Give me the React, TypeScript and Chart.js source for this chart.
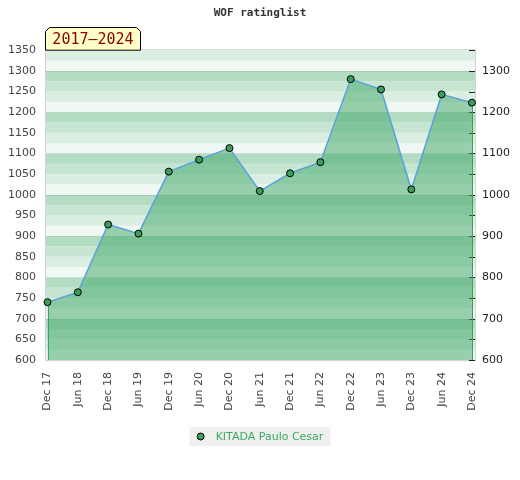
import React, { useEffect, useRef } from "react";
import { Chart, registerables } from "chart.js";

Chart.register(...registerables);

const TITLE = "WOF ratinglist";
const PERIOD = "2017–2024";
const SERIES_NAME = "KITADA Paulo Cesar";
const LABELS = [
  "Dec 17", "Jun 18", "Dec 18", "Jun 19", "Dec 19", "Jun 20", "Dec 20", "Jun 21",
  "Dec 21", "Jun 22", "Dec 22", "Jun 23", "Dec 23", "Jun 24", "Dec 24",
];
const RATINGS = [740, 764, 928, 906, 1056, 1085, 1113, 1009, 1052, 1079, 1280, 1255, 1013, 1243, 1223];
const Y_MIN = 600;
const Y_MAX = 1350;
const BAND_STEP = 25;
const BAND_COLORS = ["#f0f8f3", "#daeee1", "#c6e6d2", "#b3dcc3"]; // from v to v+100 upwards

const bgPlugin = {
  id: "bands",
  beforeDatasetsDraw(chart: any) {
    const { ctx, chartArea: a, scales } = chart;
    const y = scales.y;
    const x = scales.x;
    ctx.save();
    for (let v = Y_MIN; v < Y_MAX; v += BAND_STEP) {
      const idx = Math.floor(((v - Y_MIN) % 100) / BAND_STEP);
      const top = y.getPixelForValue(v + BAND_STEP);
      const bot = y.getPixelForValue(v);
      ctx.fillStyle = BAND_COLORS[idx];
      ctx.fillRect(a.left, top, a.right - a.left, bot - top);
    }
    ctx.strokeStyle = "rgba(0,0,0,0.08)";
    ctx.lineWidth = 1;
    for (let v = Y_MIN + 100; v < Y_MAX; v += 100) {
      const py = Math.round(y.getPixelForValue(v)) + 0.5;
      ctx.beginPath();
      ctx.moveTo(a.left, py);
      ctx.lineTo(a.right, py);
      ctx.stroke();
    }
    // frame
    ctx.strokeStyle = "#d4d4d4";
    ctx.strokeRect(a.left - 0.5, a.top - 0.5, a.right - a.left + 1, a.bottom - a.top + 1);
    // inner ticks on right
    ctx.strokeStyle = "#222";
    for (let v = Y_MIN; v <= Y_MAX; v += 50) {
      const py = Math.round(y.getPixelForValue(v)) + 0.5;
      ctx.beginPath();
      ctx.moveTo(a.right - 6, py);
      ctx.lineTo(a.right, py);
      ctx.stroke();
    }
    // vertical edges of the filled area
    ctx.strokeStyle = "#3aa05a";
    const n = RATINGS.length;
    [0, n - 1].forEach((i) => {
      const px = Math.round(x.getPixelForValue(i)) + 0.5;
      ctx.beginPath();
      ctx.moveTo(px, y.getPixelForValue(RATINGS[i]));
      ctx.lineTo(px, a.bottom);
      ctx.stroke();
    });
    ctx.restore();
  },
  afterDraw(chart: any) {
    const { ctx, chartArea: a } = chart;
    ctx.save();
    // period label box
    const bx = a.left - 0.5, by = 27.5, bw = 95, bh = a.top - 27.5, c = 4;
    ctx.beginPath();
    ctx.moveTo(bx, by + bh);
    ctx.lineTo(bx, by + c);
    ctx.lineTo(bx + c, by);
    ctx.lineTo(bx + bw - c, by);
    ctx.lineTo(bx + bw, by + c);
    ctx.lineTo(bx + bw, by + bh);
    ctx.closePath();
    ctx.fillStyle = "#ffffc8";
    ctx.fill();
    ctx.strokeStyle = "#000";
    ctx.lineWidth = 1;
    ctx.stroke();
    ctx.fillStyle = "#8b0000";
    ctx.font = "15px 'DejaVu Sans Mono'";
    ctx.textAlign = "center";
    ctx.textBaseline = "middle";
    ctx.fillText(PERIOD, bx + bw / 2, by + bh / 2 + 1);

    // legend
    const label = chart.data.datasets[0].label;
    ctx.font = "11px 'DejaVu Sans'";
    const tw = ctx.measureText(label).width;
    const lw = 26 + tw + 7;
    const lx = 260 - lw / 2;
    const ly = 427;
    ctx.fillStyle = "#f0f0f0";
    ctx.fillRect(lx, ly, lw, 19);
    ctx.beginPath();
    ctx.arc(lx + 11, ly + 9.5, 3.5, 0, Math.PI * 2);
    ctx.fillStyle = "#3a9f5a";
    ctx.fill();
    ctx.strokeStyle = "#000";
    ctx.stroke();
    ctx.fillStyle = "#3aaa5c";
    ctx.textAlign = "left";
    ctx.textBaseline = "middle";
    ctx.fillText(label, lx + 26, ly + 10);
    ctx.restore();
  },
};

export default function App() {
  const ref = useRef<HTMLCanvasElement | null>(null);
  useEffect(() => {
    document.body.style.margin = "0";
    const canvas = ref.current!;
    const chart = new Chart(canvas, {
      type: "line",
      data: {
        datasets: [
          {
            label: SERIES_NAME,
            data: RATINGS.map((v, i) => ({ x: i, y: v })),
            borderColor: "#5aa2dc",
            borderWidth: 1.5,
            backgroundColor: "rgba(62,166,103,0.5)",
            fill: "start",
            tension: 0,
            pointRadius: 3.5,
            pointBackgroundColor: "#3a9f5a",
            pointBorderColor: "#000",
            pointBorderWidth: 1,
            clip: false as any,
          },
        ],
      },
      options: {
        animation: false,
        responsive: false,
        devicePixelRatio: 1,
        layout: { padding: { bottom: 60, left: 0, right: 0 } },
        plugins: {
          legend: { display: false },
          tooltip: { enabled: false },
          title: {
            display: true,
            text: TITLE,
            color: "#333",
            font: { family: "'DejaVu Sans Mono'", size: 11, weight: "bold" },
            padding: { top: 7, bottom: 30 },
          },
        },
        scales: {
          x: {
            type: "linear",
            min: -0.05,
            max: 14.1,
            afterBuildTicks: (s: any) => {
              s.ticks = LABELS.map((_, i) => ({ value: i }));
            },
            afterFit: (s: any) => {
              s.height = 60;
            },
            grid: { display: false, drawTicks: false },
            border: { display: false },
            ticks: {
              autoSkip: false,
              maxRotation: 90,
              minRotation: 90,
              padding: 12,
              color: "#444",
              font: { family: "'DejaVu Sans'", size: 11 },
              callback: (v: any) => LABELS[v] ?? "",
            },
          },
          y: {
            type: "linear",
            position: "left",
            min: Y_MIN,
            max: Y_MAX,
            afterFit: (s: any) => {
              s.width = 46;
            },
            grid: { display: false, drawTicks: false },
            border: { display: false },
            ticks: {
              stepSize: 50,
              padding: 10,
              color: "#444",
              font: { family: "'DejaVu Sans'", size: 11 },
              callback: (v: any) => String(v),
            },
          },
          y2: {
            type: "linear",
            position: "right",
            min: Y_MIN,
            max: Y_MAX,
            afterFit: (s: any) => {
              s.width = 45;
            },
            grid: { display: false, drawTicks: false },
            border: { display: false },
            ticks: {
              stepSize: 50,
              padding: 7,
              color: "#222",
              font: { family: "'DejaVu Sans'", size: 11 },
              callback: (v: any) => (Number(v) % 100 === 0 ? String(v) : ""),
            },
          },
        },
      },
      plugins: [bgPlugin],
    });
    return () => chart.destroy();
  }, []);
  return (
    <div style={{ position: "absolute", left: 0, top: 0, width: 520, height: 480, background: "#fff" }}>
      <canvas ref={ref} width={520} height={480} style={{ width: 520, height: 480 }} />
    </div>
  );
}
